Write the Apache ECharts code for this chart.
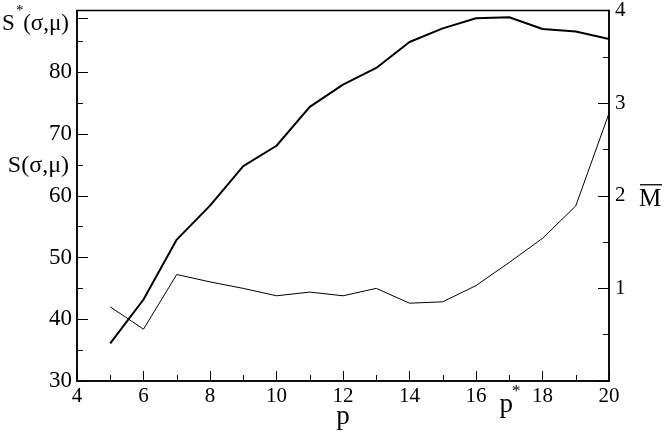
<!DOCTYPE html>
<html>
<head>
<meta charset="utf-8">
<script src="https://cdn.jsdelivr.net/npm/echarts@6/dist/echarts.min.js"></script>
<style>html,body{margin:0;padding:0;background:#fff}#c{width:664px;height:434px}</style>
</head>
<body>
<div id="c"></div>
<script>
const pValues = [5, 6, 7, 8, 9, 10, 11, 12, 13, 14, 15, 16, 17, 18, 19, 20];
const sValues = [36.1, 43.2, 52.9, 58.4, 64.8, 68.1, 74.4, 78.0, 80.7, 84.9, 87.1, 88.75, 88.9, 87.0, 86.6, 85.4];
const mValues = [0.80, 0.56, 1.15, 1.07, 1.00, 0.92, 0.96, 0.92, 1.00, 0.84, 0.855, 1.03, 1.28, 1.54, 1.89, 2.89];
const sStar = 88.7;
const pStar = 17;
const xName = 'p';
const leftLabels = { main: 'S(σ,μ)', star: 'S', starRest: '(σ,μ)' };
const rightName = 'M';

const FONT = 'Liberation Serif';
const chart = echarts.init(document.getElementById('c'), null, { renderer: 'canvas' });
const axisLine = { show: true, lineStyle: { color: '#000', width: 1.5 } };
const option = {
  animation: false,
  backgroundColor: '#fff',
  grid: { left: 77, right: 55, top: 8, bottom: 53, show: true, borderColor: '#000', borderWidth: 1.5, backgroundColor: 'transparent' },
  xAxis: {
    type: 'value', min: 4, max: 20, interval: 2,
    axisLine: axisLine,
    axisTick: { show: true, inside: true, length: 10, lineStyle: { color: '#000', width: 1 } },
    minorTick: { show: true, splitNumber: 2, length: 6, lineStyle: { color: '#000', width: 1 } },
    splitLine: { show: false },
    axisLabel: { color: '#000', fontFamily: FONT, fontSize: 21, margin: 5 }
  },
  yAxis: [
    {
      type: 'value', min: 30, max: 90, interval: 10, position: 'left',
      axisLine: axisLine,
      axisTick: { show: true, inside: true, length: 11, lineStyle: { color: '#000', width: 1 } },
      minorTick: { show: true, splitNumber: 2, length: 6, lineStyle: { color: '#000', width: 1 } },
      splitLine: { show: false },
      axisLabel: { color: '#000', fontFamily: FONT, fontSize: 23, margin: 5,
        formatter: v => (v === 90 ? '' : String(v)) }
    },
    {
      type: 'value', min: 0, max: 4, interval: 1, position: 'right',
      axisLine: axisLine,
      axisTick: { show: true, inside: true, length: 11, lineStyle: { color: '#000', width: 1 } },
      minorTick: { show: true, splitNumber: 2, length: 6, lineStyle: { color: '#000', width: 1 } },
      splitLine: { show: false },
      axisLabel: { color: '#000', fontFamily: FONT, fontSize: 21, margin: 6,
        formatter: v => (v === 0 ? '' : String(v)) }
    }
  ],
  series: [
    {
      type: 'line', yAxisIndex: 0, symbol: 'none',
      data: pValues.map((p, i) => [p, sValues[i]]),
      lineStyle: { color: '#000', width: 2 }
    },
    {
      type: 'line', yAxisIndex: 1, symbol: 'none',
      data: pValues.map((p, i) => [p, mValues[i]]),
      lineStyle: { color: '#000', width: 1 }
    }
  ]
};
chart.setOption(option);

const starY = chart.convertToPixel({ yAxisIndex: 0 }, sStar);
const sLabY = chart.convertToPixel({ yAxisIndex: 0 }, 65);
const mLabY = chart.convertToPixel({ yAxisIndex: 1 }, 2);
const pStarX = chart.convertToPixel({ xAxisIndex: 0 }, pStar);
const midX = chart.convertToPixel({ xAxisIndex: 0 }, 12);
const axX = chart.convertToPixel({ xAxisIndex: 0 }, 4);
const txt = (x, y, t, size, align, vAlign) => ({
  type: 'text', x: x, y: y,
  style: { text: t, fill: '#000', font: size + 'px "' + FONT + '"', align: align || 'left', verticalAlign: vAlign || 'middle' }
});
chart.setOption({
  graphic: [
    { type: 'line', shape: { x1: axX, y1: starY, x2: axX + 11, y2: starY }, style: { stroke: '#000', lineWidth: 1 } },
    txt(2, starY + 5, leftLabels.star, 23, 'left'),
    txt(16, starY - 7, '*', 15, 'left'),
    txt(69, starY + 5, leftLabels.starRest, 23, 'right'),
    txt(69, sLabY + 1, leftLabels.main, 24, 'right'),
    txt(639, mLabY + 4, rightName, 25, 'left'),
    { type: 'line', shape: { x1: 640, y1: mLabY - 11, x2: 662, y2: mLabY - 11 }, style: { stroke: '#000', lineWidth: 1.3 } },
    txt(midX, 417, xName, 27, 'center'),
    txt(pStarX - 3, 405, xName, 27, 'center'),
    txt(pStarX + 7, 392, '*', 17, 'center')
  ]
});
</script>
</body>
</html>
